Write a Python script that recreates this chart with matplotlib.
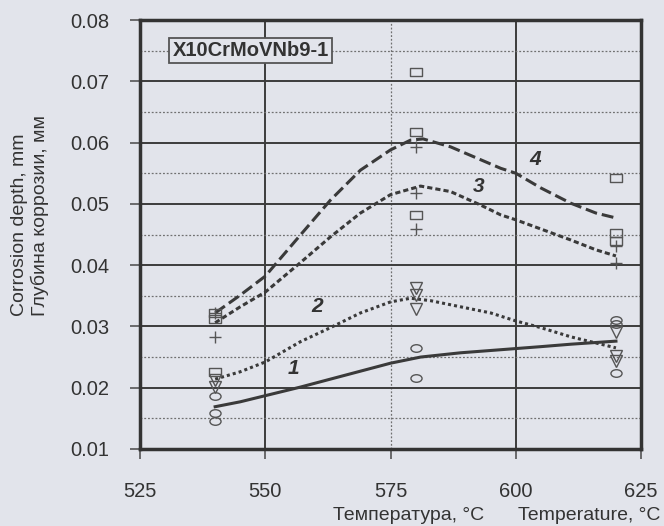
import matplotlib
matplotlib.use('Agg')
import matplotlib.pyplot as plt
from matplotlib.path import Path
from matplotlib.transforms import Affine2D

plt.rcParams['font.family'] = ['Liberation Sans', 'DejaVu Sans']

# ---------------- data ----------------
# fitted curves
T1 = [540, 545, 550, 557, 563, 569, 575, 581, 589, 597, 605, 611, 620]
D1 = [0.0169, 0.0177, 0.0187, 0.0201, 0.0214, 0.0227, 0.0240, 0.0250, 0.0257, 0.0262, 0.0267, 0.0271, 0.0276]

T2 = [540, 545, 550, 557, 563, 569, 575, 579, 583, 589, 595, 600, 605, 611, 616, 620]
D2 = [0.0214, 0.0226, 0.0242, 0.0275, 0.0298, 0.0322, 0.0340, 0.0346, 0.0342, 0.0332, 0.0322, 0.0309, 0.0298, 0.0283, 0.0273, 0.0265]

T3 = [540, 545, 550, 557, 563, 569, 575, 581, 587, 593, 597, 600, 605, 611, 616, 620]
D3 = [0.0306, 0.0332, 0.0356, 0.0404, 0.0446, 0.0485, 0.0515, 0.0529, 0.0520, 0.0498, 0.0482, 0.0474, 0.0459, 0.0441, 0.0425, 0.0415]

T4 = [540, 545, 550, 557, 563, 569, 575, 579, 581.5, 587, 593, 597, 600, 605, 611, 616, 620]
D4 = [0.0322, 0.0351, 0.0382, 0.0449, 0.0506, 0.0555, 0.0588, 0.0604, 0.0606, 0.0593, 0.0572, 0.0558, 0.0550, 0.0526, 0.0501, 0.0485, 0.0477]

# measured points
circ_T = [540, 540, 540, 580, 580, 620, 620, 620]
circ_D = [0.0187, 0.0158, 0.0145, 0.0265, 0.0216, 0.0311, 0.0304, 0.0224]
tri_T = [540, 540, 580, 580, 580, 620, 620, 620]
tri_D = [0.0213, 0.0201, 0.0362, 0.0351, 0.0329, 0.0291, 0.0251, 0.0243]
plus_T = [540, 540, 580, 580, 580, 620, 620]
plus_D = [0.0322, 0.0283, 0.0593, 0.0518, 0.0459, 0.0432, 0.0404]
sq_T = [540, 540, 540, 580, 580, 580, 620, 620, 620]
sq_D = [0.0322, 0.0312, 0.0226, 0.0715, 0.0617, 0.0482, 0.0542, 0.0452, 0.0440]

curve_labels = ['1', '2', '3', '4']
label_T = [555.6, 560.4, 592.6, 603.8]
label_D = [0.0232, 0.0332, 0.0529, 0.0572]

xticks = [525, 550, 575, 600, 625]
yticks = [0.01, 0.02, 0.03, 0.04, 0.05, 0.06, 0.07, 0.08]
yticklabels = ['0.01', '0.02', '0.03', '0.04', '0.05', '0.06', '0.07', '0.08']
yminor = [0.015, 0.025, 0.035, 0.045, 0.055, 0.065, 0.075]

title = 'X10CrMoVNb9-1'
ylabel_en = 'Corrosion depth, mm'
ylabel_ru = 'Глубина коррозии, мм'
xlabel_ru = 'Температура, °C'
xlabel_en = 'Temperature, °C'

# ---------------- style ----------------
BG = '#e2e4eb'
LC = '#3a3a3a'
MC = '#555555'
TC = '#333333'

fig = plt.figure(figsize=(6.64, 5.26), dpi=100, facecolor=BG)
ax = fig.add_axes([140 / 664, 1 - 449 / 526, 501 / 664, 429 / 526])
ax.set_facecolor(BG)
ax.set_xlim(525, 625)
ax.set_ylim(0.01, 0.08)

ax.set_xticks(xticks)
ax.set_xticklabels([str(t) for t in xticks])
ax.set_yticks(yticks)
ax.set_yticklabels(yticklabels)
ax.set_yticks(yminor, minor=True)

ax.set_axisbelow(True)
ax.grid(which='major', axis='y', color='#3c3c3c', lw=1.4, ls='-')
ax.grid(which='minor', axis='y', color='#707070', lw=0.9, ls=(0, (1.5, 1.5)))
ax.grid(which='major', axis='x', color='#3c3c3c', lw=1.4, ls='-')
for t, gl in zip(xticks, ax.get_xgridlines()):
    if t == 575:
        gl.set_linestyle((0, (1.5, 1.5)))
        gl.set_color('#707070')
        gl.set_linewidth(0.9)

ax.tick_params(axis='both', which='major', direction='out', length=7, width=1.2,
               color='#555555', labelsize=14.5, labelcolor=TC)
ax.tick_params(axis='y', which='major', pad=15)
ax.tick_params(axis='x', which='major', pad=17)
ax.tick_params(which='minor', length=0)
for s in ax.spines.values():
    s.set_linewidth(2.5)
    s.set_color('#333333')

# curves
ax.plot(T1, D1, color=LC, lw=2.2, ls='-', zorder=3)
ax.plot(T2, D2, color=LC, lw=2.2, ls=(0, (1.0, 1.0)), dash_capstyle='butt', zorder=3)
ax.plot(T3, D3, color=LC, lw=2.2, ls=(0, (1.7, 1.0)), zorder=3)
ax.plot(T4, D4, color=LC, lw=2.2, ls=(0, (3.9, 1.6)), zorder=3)

# markers
rect = Path([(-1, -0.7), (1, -0.7), (1, 0.7), (-1, 0.7), (-1, -0.7)], closed=True)
ell = Path.unit_circle().transformed(Affine2D().scale(1, 0.68))
kw = dict(ls='none', mfc='none', mec=MC, mew=1.0, zorder=4)
ax.plot(circ_T, circ_D, marker=ell, ms=8, **kw)
ax.plot(tri_T, tri_D, marker='v', ms=8, **kw)
ax.plot(plus_T, plus_D, marker='+', ms=9, **kw)
ax.plot(sq_T, sq_D, marker=rect, ms=8, **kw)

for lab, x, y in zip(curve_labels, label_T, label_D):
    ax.text(x, y, lab, ha='center', va='center', fontsize=15, fontstyle='italic',
            fontweight='bold', color=TC, zorder=5)

ax.text(0.2206, 0.930, title, transform=ax.transAxes, ha='center', va='center',
        fontsize=14.5, fontweight='bold', color=TC, zorder=6,
        bbox=dict(boxstyle='square,pad=0.15', fc=BG, ec='#555555', lw=1.3))

fig.text(20 / 664, 1 - 316 / 526, ylabel_en, rotation=90, ha='center', va='bottom',
         fontsize=14, color=TC)
fig.text(40 / 664, 1 - 316 / 526, ylabel_ru, rotation=90, ha='center', va='bottom',
         fontsize=14, color=TC)
fig.text(484 / 664, 1 - 515 / 526, xlabel_ru, ha='right', va='center', fontsize=14, color=TC)
fig.text(660 / 664, 1 - 515 / 526, xlabel_en, ha='right', va='center', fontsize=14, color=TC)

fig.savefig('out.png', dpi=100, facecolor=BG)
